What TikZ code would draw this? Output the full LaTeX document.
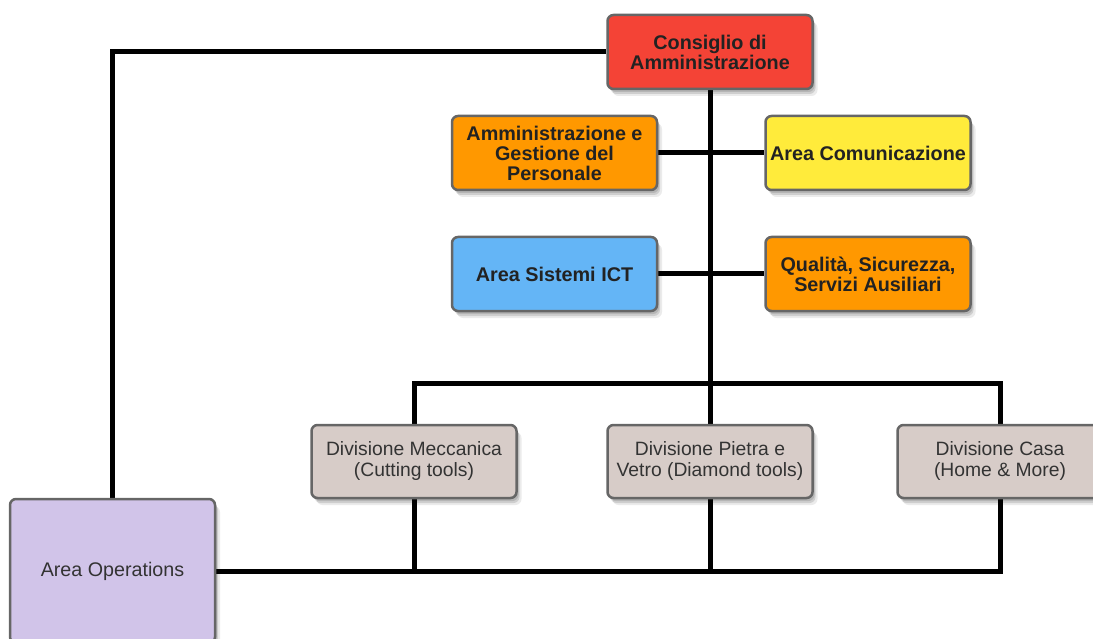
\documentclass[tikz,border=0pt]{standalone}
\usepackage{fontspec}
\setmainfont{Liberation Sans}
\usetikzlibrary{shadows,backgrounds}

\definecolor{cRed}{HTML}{F44336}
\definecolor{cOrange}{HTML}{FF9800}
\definecolor{cYellow}{HTML}{FFEB3B}
\definecolor{cBlue}{HTML}{64B5F6}
\definecolor{cDiv}{HTML}{D7CCC8}
\definecolor{cOps}{HTML}{D1C4E9}
\definecolor{cBorder}{HTML}{666666}
\definecolor{cText}{HTML}{222222}

\tikzset{
  orgbox/.style={
    rectangle, rounded corners=6pt, draw=cBorder, line width=2.5pt,
    minimum width=205pt, minimum height=74pt, inner sep=2pt,
    align=center, text=cText,
    drop shadow={shadow xshift=5pt, shadow yshift=-7pt, opacity=0.08, fill=black},
    drop shadow={shadow xshift=3pt, shadow yshift=-5pt, opacity=0.12, fill=black},
    drop shadow={shadow xshift=2pt, shadow yshift=-3pt, opacity=0.12, fill=black}
  },
  boldbox/.style={orgbox, font=\fontsize{19.8}{20}\selectfont\bfseries},
  divbox/.style={orgbox, fill=cDiv, minimum height=73pt,
    text=black!80, font=\fontsize{19.3}{21}\selectfont},
  link/.style={line width=5pt, draw=black}
}

\begin{document}
\begin{tikzpicture}[x=1pt, y=-1pt]
  \useasboundingbox (0,0) rectangle (1093,639);

  % governing board
  \node[boldbox, fill=cRed] (ca) at (710,52) {Consiglio di\\Amministrazione};

  % staff areas
  \node[boldbox, fill=cOrange] (adm) at (554.5,153) {Amministrazione e\\Gestione del\\Personale};
  \node[boldbox, fill=cYellow] (com) at (868,153) {Area Comunicazione};
  \node[boldbox, fill=cBlue] (ict) at (554.5,274) {Area Sistemi ICT};
  \node[boldbox, fill=cOrange] (qual) at (868,274) {Qualità, Sicurezza,\\Servizi Ausiliari};

  % divisions
  \node[divbox] (mec) at (414,461.5) {Divisione Meccanica\\(Cutting tools)};
  \node[divbox] (pie) at (710,461.5) {Divisione Pietra e\\Vetro (Diamond tools)};
  \node[divbox] (casa) at (1000,461.5) {Divisione Casa\\(Home \& More)};

  % operations
  \node[orgbox, fill=cOps, minimum height=144pt, text=black!80,
        font=\fontsize{19.7}{21}\selectfont] (ops) at (112.5,571) {Area Operations};

  \coordinate (busC) at (710,383);

  \begin{scope}[on background layer]
    \draw[link] (ca.south) -- (busC);
    \draw[link] (adm.east) -- (com.west);
    \draw[link] (ict.east) -- (qual.west);
    \draw[link] (mec.north) |- (busC) -| (casa.north);
    \draw[link] (pie.north) -- (busC);
    \draw[link] (mec.south) |- (ops.east);
    \draw[link] (casa.south) |- (ops.east);
    \draw[link] (pie.south) -- (pie.south |- ops.east);
    \draw[link] (ca.west) -| (ops.north);
  \end{scope}
\end{tikzpicture}
\end{document}
